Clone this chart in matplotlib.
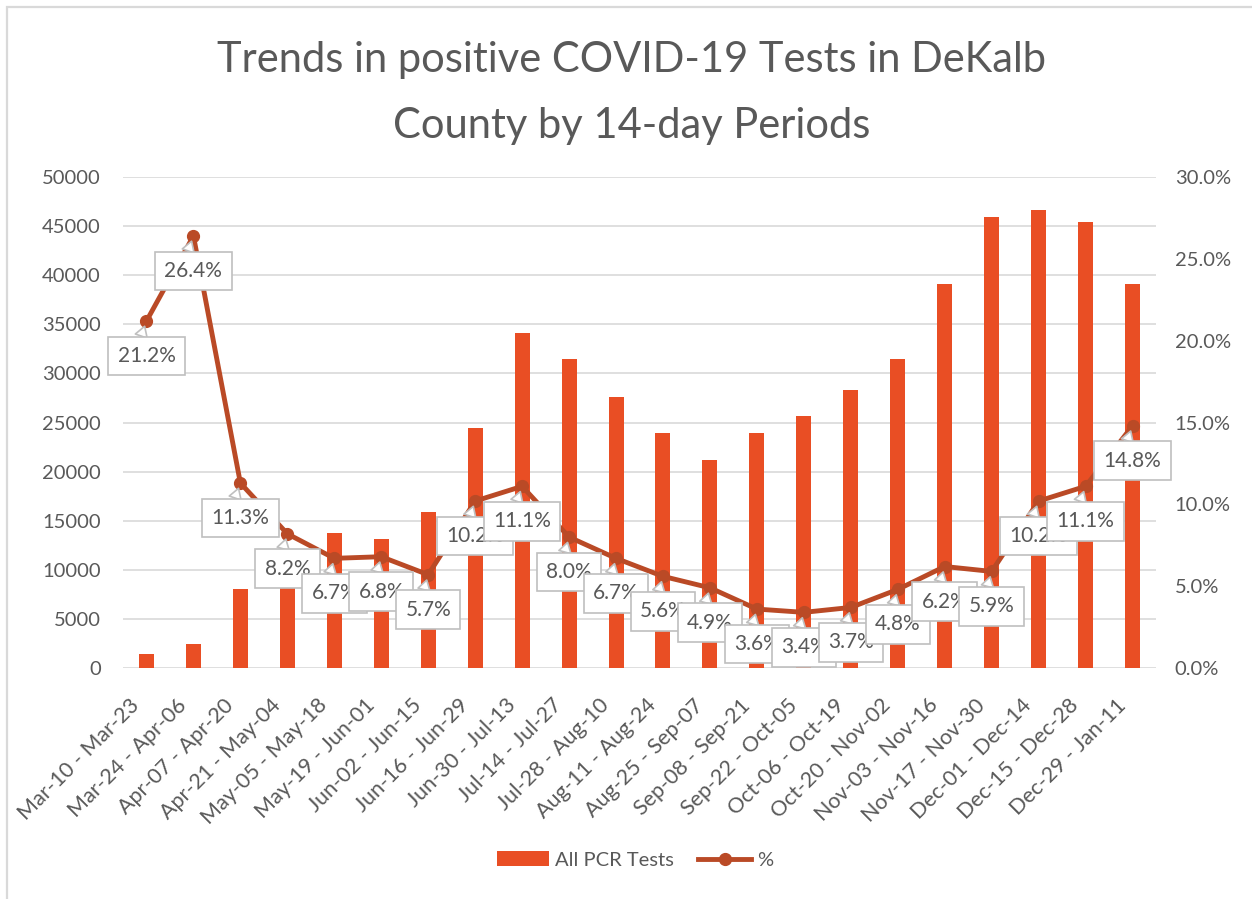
import matplotlib
matplotlib.use("Agg")
import matplotlib.pyplot as plt
from matplotlib.patches import Rectangle, Patch
from matplotlib.lines import Line2D
from matplotlib.ticker import FuncFormatter, MultipleLocator
from matplotlib.transforms import ScaledTranslation
import numpy as np

plt.rcParams['font.family'] = ['Lato', 'DejaVu Sans']

# data
periods = ['Mar-10 - Mar-23', 'Mar-24 - Apr-06', 'Apr-07 - Apr-20', 'Apr-21 - May-04',
           'May-05 - May-18', 'May-19 - Jun-01', 'Jun-02 - Jun-15', 'Jun-16 - Jun-29',
           'Jun-30 - Jul-13', 'Jul-14 - Jul-27', 'Jul-28 - Aug-10', 'Aug-11 - Aug-24',
           'Aug-25 - Sep-07', 'Sep-08 - Sep-21', 'Sep-22 - Oct-05', 'Oct-06 - Oct-19',
           'Oct-20 - Nov-02', 'Nov-03 - Nov-16', 'Nov-17 - Nov-30', 'Dec-01 - Dec-14',
           'Dec-15 - Dec-28', 'Dec-29 - Jan-11']
pcr_tests = [1400, 2450, 8050, 9300, 13750, 13100, 15900, 24400, 34100, 31450, 27600,
             23900, 21200, 23900, 25650, 28300, 31450, 39100, 45900, 46650, 45400, 39100]
pct_positive = [21.2, 26.4, 11.3, 8.2, 6.7, 6.8, 5.7, 10.2, 11.1, 8.0, 6.7, 5.6, 4.9,
                3.6, 3.4, 3.7, 4.8, 6.2, 5.9, 10.2, 11.1, 14.8]

bar_color = '#E94E24'
line_color = '#BA4A26'
text_color = '#595959'
grid_color = '#D9D9D9'

W, H = 1252, 899
fig = plt.figure(figsize=(W / 100, H / 100), dpi=100)
fig.patch.set_facecolor('white')

# chart border (right and bottom edges fall outside the picture)
fig.add_artist(Rectangle((7 / W, -10 / H), (W + 20) / W, (H + 3) / H, transform=fig.transFigure,
                         fill=False, edgecolor=grid_color, linewidth=1.6))

ax = fig.add_axes([123 / W, 231 / H, 1033 / W, 491 / H])
x = np.arange(len(periods))
ax.bar(x, pcr_tests, width=0.32, color=bar_color, zorder=2)
ax.set_xlim(-0.5, len(periods) - 0.5)
ax.set_ylim(0, 50000)
ax.yaxis.set_major_locator(MultipleLocator(5000))
ax.grid(axis='y', color=grid_color, linewidth=1.2, zorder=0)
ax.set_axisbelow(True)
for s in ax.spines.values():
    s.set_visible(False)
ax.tick_params(axis='both', length=0, labelsize=14.5, labelcolor=text_color)
ax.tick_params(axis='y', pad=16)
ax.set_xticks(x)
ax.set_xticklabels(periods, rotation=45, ha='right', va='top', rotation_mode='anchor',
                   fontsize=15.5)
ax.tick_params(axis='x', pad=8)
shift = ScaledTranslation(-0.17, -0.16, fig.dpi_scale_trans)
for lab in ax.get_xticklabels():
    lab.set_transform(lab.get_transform() + shift)

ax2 = ax.twinx()
ax2.set_ylim(0, 30)
ax2.yaxis.set_major_locator(MultipleLocator(5))
ax2.yaxis.set_major_formatter(FuncFormatter(lambda v, p: f'{v:.1f}%'))
for s in ax2.spines.values():
    s.set_visible(False)
ax2.tick_params(axis='y', length=0, labelsize=14.5, labelcolor=text_color, pad=13.5)
ax2.plot(x, pct_positive, color=line_color, linewidth=3.5, marker='o', markersize=8.5,
         zorder=3)

for xi, v in zip(x, pct_positive):
    ax2.annotate(f'{v:.1f}%', xy=(xi, v), xytext=(0, -35), textcoords='offset pixels',
                 ha='center', va='center', fontsize=15, color=text_color, zorder=5,
                 bbox=dict(boxstyle='square,pad=0.45', fc='white', ec='#BFBFBF', lw=1.2),
                 arrowprops=dict(arrowstyle='wedge,tail_width=0.6', fc='white', ec='#BFBFBF',
                                 lw=1.2, relpos=(0.35, 1.0), shrinkA=0, shrinkB=4))

fig.text(631.5 / W, 1 - 72 / H, 'Trends in positive COVID-19 Tests in DeKalb',
         ha='center', va='baseline', fontsize=30, color=text_color)
fig.text(631.5 / W, 1 - 138 / H, 'County by 14-day Periods',
         ha='center', va='baseline', fontsize=30, color=text_color)

handles = [Patch(facecolor=bar_color, edgecolor='none'),
           Line2D([0], [0], color=line_color, linewidth=3.5, marker='o', markersize=8.5)]
fig.legend(handles, ['All PCR Tests', '%'], loc='center', bbox_to_anchor=(635 / W, 39 / H),
           ncol=2, frameon=False, fontsize=14.5, labelcolor=text_color, handlelength=2.6,
           columnspacing=1.2, handletextpad=0.3)

fig.savefig('out.png', dpi=100, facecolor='white')
